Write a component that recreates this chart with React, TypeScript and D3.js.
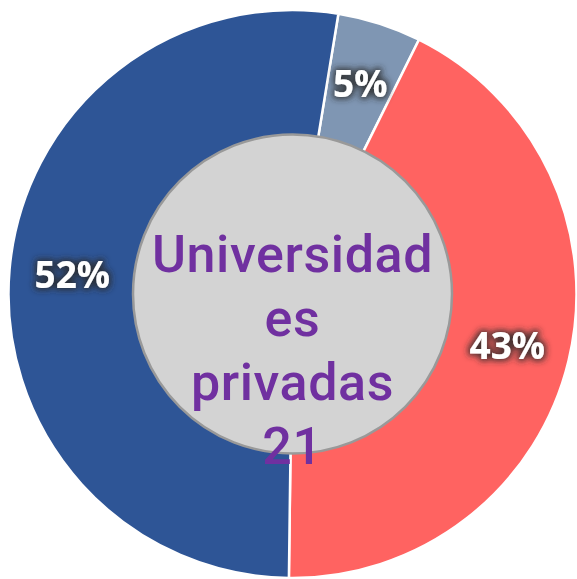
import React from "react";
import * as d3 from "d3";

// universidades privadas por grupo
const labels = ["g1", "g2", "g3"];
const values = [1, 9, 11];
const colors = ["#7f96b3", "#ff6361", "#2e5596"];
const centerLines = ["Universidad", "es", "privadas", "21"];

const W = 577;
const H = 579;
const cx = 292.5;
const cy = 294;
const outerR = 284;

const App = () => {
  const total = d3.sum(values);
  const start = (9.3 * Math.PI) / 180;
  const pie = d3
    .pie<number>()
    .sort(null)
    .startAngle(start)
    .endAngle(start + 2 * Math.PI);
  const arcs = pie(values);

  const arc = d3.arc<d3.PieArcDatum<number>>().innerRadius(140).outerRadius(outerR);
  const labelArc = d3.arc<d3.PieArcDatum<number>>().innerRadius(221).outerRadius(221);

  const fmt = d3.format(".0%");

  return (
    <svg width={W} height={H} style={{ position: "absolute", left: 0, top: 0 }}>
      <defs>
        <filter id="glow" x="-30%" y="-30%" width="160%" height="160%">
          <feMorphology in="SourceAlpha" operator="dilate" radius="1.5" result="d" />
          <feGaussianBlur in="d" stdDeviation="3" result="b" />
          <feFlood floodColor="#2a2a2a" floodOpacity="0.85" />
          <feComposite in2="b" operator="in" result="s" />
          <feMerge>
            <feMergeNode in="s" />
            <feMergeNode in="SourceGraphic" />
          </feMerge>
        </filter>
      </defs>
      <g transform={`translate(${cx},${cy})`}>
        {arcs.map((a, i) => (
          <path key={labels[i]} d={arc(a) || ""} fill={colors[i]} stroke="#fff" strokeWidth={2.5} />
        ))}
        <circle r={159.5} fill="#d3d3d3" stroke="#999" strokeWidth={2.5} />
        {centerLines.map((t, i) => (
          <text
            key={i}
            x={0}
            y={-22 + i * 64}
            textAnchor="middle"
            fontFamily="Roboto, 'DejaVu Sans', sans-serif"
            fontWeight={500}
            fontSize={52}
            letterSpacing={0.6}
            fill="#7030a0"
          >
            {t}
          </text>
        ))}
        {arcs.map((a, i) => {
          const [x, y] = labelArc.centroid(a);
          return (
            <text
              key={"l" + labels[i]}
              x={x}
              y={y}
              dy="0.36em"
              textAnchor="middle"
              fontFamily="'Open Sans', sans-serif"
              fontWeight={700}
              fontSize={37}
              fill="#fff"
              filter="url(#glow)"
            >
              {fmt(values[i] / total)}
            </text>
          );
        })}
      </g>
    </svg>
  );
};

export default App;
